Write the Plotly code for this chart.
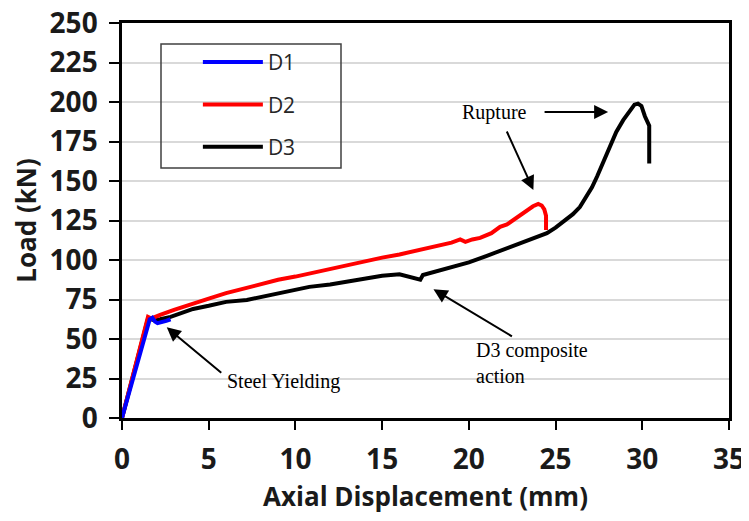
import plotly.graph_objects as go

# ---- data ----
d1_x = [0.0, 0.4, 0.8, 1.2, 1.6, 1.75, 1.9, 2.05, 2.3, 2.55, 2.8]
d1_y = [0.0, 15.5, 31.5, 47.5, 62.5, 63.5, 61.0, 60.0, 60.5, 61.5, 62.5]

d2_x = [0.0, 0.5, 1.0, 1.5, 1.7, 2.0, 2.2, 3.0, 4.1, 5.0, 6.0, 7.0, 8.0, 9.0, 10.0,
        11.0, 12.0, 13.0, 14.0, 15.0, 16.0, 17.0, 18.0, 19.0, 19.5, 19.8, 20.2,
        20.65, 21.3, 21.8, 22.2, 22.6, 23.0, 23.35, 23.7, 24.0, 24.2, 24.35, 24.45, 24.45]
d2_y = [0.0, 21.0, 42.5, 64.0, 63.0, 64.0, 65.2, 68.5, 72.0, 75.5, 79.0, 82.0, 85.0, 87.5, 89.5,
        92.0, 94.0, 96.5, 99.0, 101.5, 103.5, 106.0, 108.5, 111.0, 113.0, 111.5, 113.0,
        114.0, 117.0, 121.0, 122.5, 125.5, 128.5, 131.5, 134.0, 135.5, 134.5, 132.0, 128.0, 119.0]

d3_x = [0.0, 0.5, 1.0, 1.5, 1.8, 2.2, 2.8, 4.1, 5.0, 6.0, 7.2, 8.0, 8.9, 10.0, 10.8,
        12.0, 13.0, 14.0, 15.0, 16.0, 16.5, 17.0, 17.2, 17.35, 18.0, 19.0, 20.0, 21.0,
        22.0, 23.0, 24.0, 24.5, 25.0, 25.5, 26.0, 26.4, 26.8, 27.1, 27.4, 27.7, 27.95,
        28.2, 28.5, 28.9, 29.3, 29.55, 29.75, 29.95, 30.15, 30.35, 30.4, 30.4]
d3_y = [0.0, 21.0, 42.0, 63.0, 62.0, 62.5, 64.0, 69.0, 71.0, 73.5, 74.7, 76.5, 78.9, 81.0, 83.0,
        84.5, 86.5, 88.5, 90.0, 91.0, 89.5, 88.0, 87.5, 90.5, 92.5, 95.5, 98.5, 102.5,
        106.5, 110.5, 114.5, 117.0, 120.5, 124.5, 129.0, 133.5, 140.0, 146.0, 153.0, 161.0, 168.0,
        174.0, 181.0, 188.5, 195.0, 198.3, 199.0, 197.5, 191.0, 187.0, 185.0, 161.0]

x_ticks = [0, 5, 10, 15, 20, 25, 30, 35]
y_ticks = [0, 25, 50, 75, 100, 125, 150, 175, 200, 225, 250]

fig = go.Figure()
fig.add_trace(go.Scatter(x=d3_x, y=d3_y, mode="lines", name="D3",
                         line=dict(color="#000000", width=4), legendrank=3, legendgroup="g3"))
fig.add_trace(go.Scatter(x=d2_x, y=d2_y, mode="lines", name="D2",
                         line=dict(color="#ff0000", width=4), legendrank=2, legendgroup="g2"))
fig.add_trace(go.Scatter(x=d1_x, y=d1_y, mode="lines", name="D1",
                         line=dict(color="#0000ff", width=4), legendrank=1, legendgroup="g1"))

tick_font = dict(family="Open Sans", size=28, color="#1a1a1a", weight="bold")
title_font = dict(family="Open Sans", size=26, color="#1a1a1a", weight="bold")

# page body has an 8px margin, so the figure is sized to fit the window from there
fig.update_layout(
    width=741, height=513,
    margin=dict(l=114, r=20, t=15, b=103, autoexpand=False),
    paper_bgcolor="white", plot_bgcolor="white",
    showlegend=True,
    legend=dict(x=0.125, y=0.952, xanchor="left", yanchor="top",
                bgcolor="rgba(0,0,0,0)", borderwidth=0,
                font=dict(family="Open Sans", size=21, color="#262626"),
                itemwidth=60, tracegroupgap=12),
    xaxis=dict(range=[0, 35], tickvals=x_ticks, ticks="outside", ticklen=9, tickwidth=2,
               tickcolor="black", showline=True, linecolor="black", linewidth=2.5,
               mirror=True, showgrid=False, zeroline=False, tickfont=tick_font,
               ticklabelstandoff=6, automargin=False, ticklabeloverflow="allow",
               title=dict(text="Axial Displacement (mm)", standoff=12, font=title_font)),
    yaxis=dict(range=[0, 250], tickvals=y_ticks, ticks="outside", ticklen=10, tickwidth=2,
               tickcolor="black", showline=True, linecolor="black", linewidth=2.5,
               mirror=True, showgrid=True, gridcolor="#d9d9d9", gridwidth=2, zeroline=False,
               tickfont=tick_font, ticklabelstandoff=6, automargin=False,
               ticklabeloverflow="allow",
               title=dict(text="Load (kN)", standoff=10, font=title_font)),
)

# legend frame
fig.add_shape(type="rect", xref="paper", yref="paper",
              x0=(161 - 122) / 607, x1=(341 - 122) / 607,
              y0=(418 - 168) / 395, y1=(418 - 44) / 395,
              line=dict(color="#404040", width=1.5), fillcolor="rgba(0,0,0,0)")

serif = dict(family="Liberation Serif", size=20, color="black")

# arrows (tip at x,y; tail at ax,ay)
arrows = [
    (28.03, 193.7, 24.28, 193.7),
    (23.72, 144.3, 22.15, 182.3),
    (2.58, 57.4, 5.81, 27.8),
    (17.96, 81.5, 22.57, 51.1),
]
for tx, ty, ax_, ay_ in arrows:
    fig.add_annotation(x=tx, y=ty, ax=ax_, ay=ay_, xref="x", yref="y", axref="x", ayref="y",
                       text="", showarrow=True, arrowhead=2, arrowsize=1.4, arrowwidth=2,
                       arrowcolor="black", standoff=0)

fig.add_annotation(x=21.45, y=193.2, xref="x", yref="y", text="Rupture", showarrow=False,
                   font=serif, xanchor="center", yanchor="middle")
fig.add_annotation(x=5.94, y=23.0, xref="x", yref="y", text="Steel Yielding", showarrow=False,
                   font=serif, xanchor="left", yanchor="middle")
fig.add_annotation(x=20.3, y=35.1, xref="x", yref="y", text="D3 composite<br>action",
                   showarrow=False, font=serif, xanchor="left", yanchor="middle", align="left")

fig.write_html("out.html")
